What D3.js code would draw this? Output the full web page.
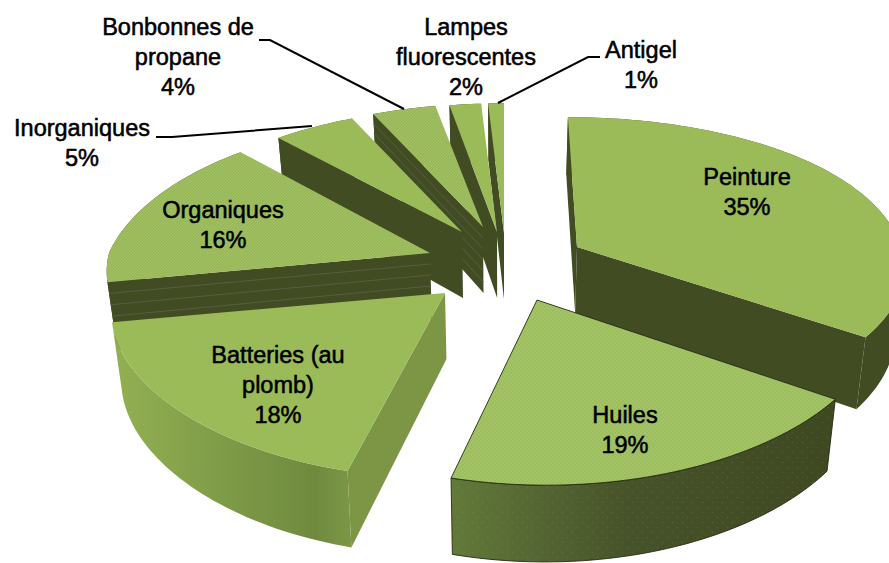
<!DOCTYPE html>
<html><head><meta charset="utf-8">
<script src="https://cdn.jsdelivr.net/npm/d3@7"></script>
<style>html,body{margin:0;padding:0;background:#fff;overflow:hidden}svg{display:block}</style>
</head><body><div id="c"></div>
<script>
// Data
const categories = ["Peinture","Huiles","Batteries (au plomb)","Organiques","Inorganiques","Bonbonnes de propane","Lampes fluorescentes","Antigel"];
const values = [35,19,18,16,5,4,2,1];

// Layout per slice (same order as categories)
const explodeX = [74,34,-58,-73,-41,-20,-6,1];
const explodeY = [-15,38,31,-9,-30,-35,-30,-29];
const stretchX = [1.01,1.05,1.03,1,1,1,1,1];
const stretchFar  = [1.03,1,1,1.05,.98,.975,1.02,1.03];
const stretchNear = [.91,1,1,1,1,1,1,1];
const shearX   = [.07,.05,-.025,0,0,0,0,0];
const farPersp = [.12,.27,.27,.22,.27,.27,.27,.27];
const drawOrder = [7,6,5,4,3,0,1,2];
const topFill  = ["#9bbb59","url(#dots)","#9bbb59","url(#hatch)","#9bbb59","url(#hatch)","#9bbb59","#9bbb59"];
const sideFill = ["#424c23","#424c23","#7c9646","#424c23","#424c23","#424c23","#424c23","#424c23"];
const rimFill  = ["#424c23","url(#rimH)","url(#rimB)","#424c23","#424c23","#424c23","#424c23","#424c23"];
const rimTexture = [false,true,false,false,false,false,false,false];
const showStart= [true,false,true,true,true,true,true,true];
const showEnd  = [true,false,false,false,false,false,false,false];
const stripes  = [0,0,0,5,0,5,0,0];
const outlined = [false,true,false,false,false,false,false,false];

// Label layout
const labelLines = [["Peinture","35%"],["Huiles","19%"],["Batteries (au","plomb)","18%"],["Organiques","16%"],["Inorganiques","5%"],["Bonbonnes de","propane","4%"],["Lampes","fluorescentes","2%"],["Antigel","1%"]];
const labelX = [747,625,278,223,82,178,466,641];
const labelY = [185,423,363,218,136,35,35,58];
const leaderPts = [null,null,null,null,[[156,137],[172,137],[312,126]],[[259,40],[270,40],[404,109]],null,[[600,57],[588,57],[498,103]]];

const W = 889, H = 563, cx = 503, cy = 262, lineGap = 30;
const sx = d3.scaleLinear().domain([-1,1]).range([-321,321]);
const sy = d3.scaleLinear().domain([-1,1]).range([150,-150]);
const depth = d3.scaleLinear().domain([0,1]).range([0,66]);

const svg = d3.select("#c").append("svg").attr("width",W).attr("height",H).attr("viewBox",`0 0 ${W} ${H}`);
const defs = svg.append("defs");
const dots = defs.append("pattern").attr("id","dots").attr("width",4).attr("height",4).attr("patternUnits","userSpaceOnUse");
dots.append("rect").attr("width",4).attr("height",4).attr("fill","#9dbe5d");
dots.append("circle").attr("cx",1).attr("cy",1).attr("r",.8).attr("fill","#aecb78");
dots.append("circle").attr("cx",3).attr("cy",3).attr("r",.8).attr("fill","#aecb78");
const wallDots = defs.append("pattern").attr("id","wallDots").attr("width",10).attr("height",10).attr("patternUnits","userSpaceOnUse");
wallDots.append("circle").attr("cx",2.5).attr("cy",2.5).attr("r",.8).attr("fill","#8aa05a").attr("fill-opacity",.22);
wallDots.append("circle").attr("cx",7.5).attr("cy",7.5).attr("r",.8).attr("fill","#8aa05a").attr("fill-opacity",.22);
const hatch = defs.append("pattern").attr("id","hatch").attr("width",3).attr("height",3).attr("patternUnits","userSpaceOnUse");
hatch.append("rect").attr("width",3).attr("height",3).attr("fill","#99b958");
hatch.append("path").attr("d","M0,3L3,0").attr("stroke","#a5c36d").attr("stroke-width",.7);
function grad(id,x1,x2,stops){
  const g = defs.append("linearGradient").attr("id",id).attr("gradientUnits","userSpaceOnUse").attr("x1",x1).attr("x2",x2).attr("y1",0).attr("y2",0);
  stops.forEach(s=>g.append("stop").attr("offset",s[0]).attr("stop-color",s[1]));
}
grad("rimH",452,835,[[0,"#62793a"],[.45,"#47532a"],[1,"#3e4821"]]);
grad("rimB",110,352,[[0,"#93b152"],[.45,"#7f9c48"],[.85,"#6f8a3e"],[1,"#7b9746"]]);

const arcs = d3.pie().value(d=>d).sort(null)(values);

function rimPoint(i,theta){
  const X = Math.sin(theta), Y = Math.cos(theta);
  const q = Y<0 ? .12 : farPersp[i];
  const dy = sy(Y/(1+.19*Y)) * (Y<0 ? stretchNear[i] : stretchFar[i]);
  const dx = sx(X*stretchX[i]/(1+q*Y)) + shearX[i]*dy;
  return {x:cx+explodeX[i]+dx, y:cy+explodeY[i]+dy, Y};
}
function lower(p,t=1){
  return {x:p.x-(p.x-cx)*.025*t, y:p.y+depth(t)/(1+.14*(p.Y||0))};
}
const line = d3.line().x(d=>d.x).y(d=>d.y);

const plot = svg.append("g");
drawOrder.forEach(i=>{
  const a = arcs[i];
  const apex = {x:cx+explodeX[i], y:cy+explodeY[i], Y:0};
  const n = Math.max(6,Math.round((a.endAngle-a.startAngle)*40));
  const rim = d3.range(n+1).map(k=>rimPoint(i,a.startAngle+(a.endAngle-a.startAngle)*k/n));
  const g = plot.append("g");
  const sw = outlined[i] ? .9 : 0;
  const stroke = outlined[i] ? "#232b10" : "none";
  // outer wall
  const rimPath = line(rim.concat(rim.map(p=>lower(p)).reverse()))+"Z";
  g.append("path").attr("d",rimPath).attr("fill",rimFill[i]).attr("stroke",stroke).attr("stroke-width",sw);
  if(rimTexture[i]) g.append("path").attr("d",rimPath).attr("fill","url(#wallDots)");
  const sideWall = (p)=>{
    g.append("path").attr("d",line([apex,p,lower(p),lower(apex)])+"Z").attr("fill",sideFill[i]);
    d3.range(1,stripes[i]+1).forEach(k=>{
      const t = k/(stripes[i]+1);
      g.append("path").attr("d",line([lower(apex,t),lower(p,t)])).attr("fill","none").attr("stroke","#555e42").attr("stroke-width",1);
    });
  };
  if(showStart[i]) sideWall(rim[0]);
  if(showEnd[i]) sideWall(rim[n]);
  // top face
  g.append("path").attr("d",line([apex].concat(rim))+"Z")
    .attr("fill",topFill[i]).attr("stroke",stroke).attr("stroke-width",sw);
});

// Leader lines
const leaders = svg.append("g");
leaderPts.forEach(p=>{
  if(p) leaders.append("path").attr("d",d3.line()(p)).attr("fill","none").attr("stroke","#000").attr("stroke-width",2);
});

// Labels
const labels = svg.append("g").attr("font-family","'Liberation Sans',Arial,sans-serif").attr("font-size",24).attr("fill","#000").attr("stroke","#000").attr("stroke-width",.55).attr("text-anchor","middle");
labelLines.forEach((ls,i)=>{
  ls.forEach((t,j)=>{
    labels.append("text").attr("transform",`translate(${labelX[i]},${labelY[i]+j*lineGap}) scale(.98,1)`).text(t);
  });
});
</script></body></html>
